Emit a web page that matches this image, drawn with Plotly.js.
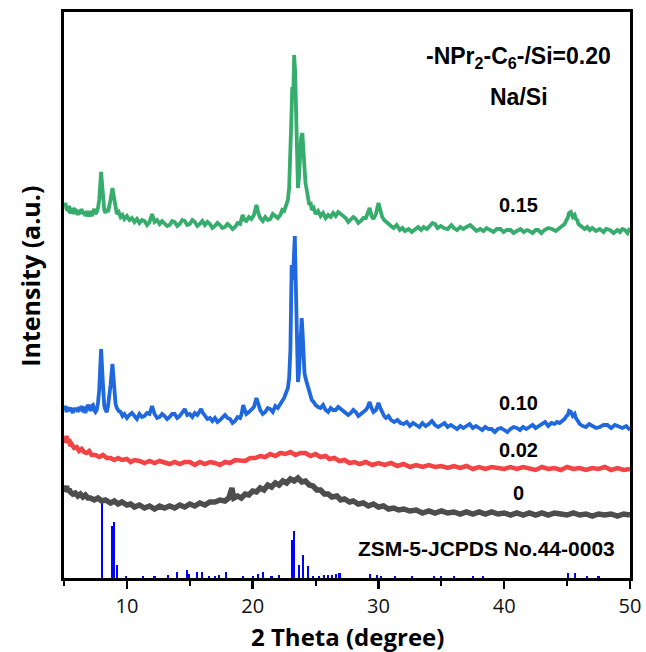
<!DOCTYPE html>
<html>
<head>
<meta charset="utf-8">
<script src="https://cdn.plot.ly/plotly-3.0.1.min.js"></script>
<style>html,body{margin:0;padding:0;background:#fff;}#chart{width:646px;height:652px;}</style>
</head>
<body>
<div id="chart"></div>
<script>
// 2 Theta (degree) and intensity (a.u.)
const thetaNa015 = [
5.0,5.1,5.2,5.3,5.4,5.5,5.6,5.7,5.8,5.9,
6.0,6.1,6.2,6.3,6.4,6.5,6.6,6.7,6.8,6.9,
7.0,7.1,7.2,7.3,7.4,7.5,7.6,7.7,7.8,7.95,
8.1,8.2,8.3,8.4,8.5,8.6,8.7,8.85,9.0,9.1,
9.2,9.35,9.5,9.65,9.8,10.0,10.2,10.4,10.6,10.8,
11.0,11.2,11.4,11.6,11.8,12.0,12.2,12.4,12.6,12.8,
13.0,13.2,13.4,13.6,13.8,14.0,14.2,14.4,14.6,14.8,
15.0,15.2,15.4,15.6,15.8,16.0,16.2,16.4,16.6,16.8,
17.0,17.2,17.4,17.6,17.8,18.0,18.2,18.4,18.6,18.8,
19.0,19.2,19.35,19.5,19.7,19.9,20.1,20.3,20.45,20.6,
20.8,21.0,21.2,21.4,21.6,21.8,22.0,22.2,22.35,22.5,
22.65,22.8,22.9,23.0,23.08,23.15,23.22,23.3,23.38,23.45,
23.52,23.6,23.68,23.75,23.85,23.95,24.02,24.1,24.2,24.3,
24.4,24.5,24.6,24.7,24.85,25.0,25.2,25.4,25.6,25.8,
26.0,26.2,26.4,26.6,26.8,27.0,27.2,27.4,27.6,27.8,
28.0,28.2,28.4,28.6,28.8,29.0,29.15,29.3,29.45,29.6,
29.8,30.0,30.15,30.3,30.45,30.6,30.8,31.0,31.2,31.45,
31.7,31.9,32.1,32.4,32.65,32.9,33.15,33.4,33.6,33.85,
34.1,34.3,34.5,34.7,34.95,35.2,35.5,35.8,36.0,36.25,
36.5,36.75,37.0,37.3,37.55,37.8,38.1,38.35,38.6,38.9,
39.15,39.4,39.7,39.95,40.2,40.5,40.75,41.0,41.3,41.55,
41.8,42.0,42.25,42.5,42.7,42.95,43.2,43.5,43.8,44.1,
44.4,44.6,44.8,44.95,45.05,45.15,45.3,45.45,45.6,45.7,
45.8,45.9,46.0,46.2,46.4,46.6,46.8,47.0,47.3,47.6,
47.9,48.1,48.4,48.7,49.0,49.2,49.4,49.6,49.8,50.0];
const intNa015 = [
371,375,369,368,372,366,366,370,364,368,
367,363,368,364,369,364,366,362,367,363,
363,367,362,365,369,364,366,370,378,406,
380,368,365,369,366,371,378,390,378,368,
364,366,361,363,359,362,358,360,356,359,
355,358,357,353,356,364,356,358,354,357,
355,352,353,357,356,352,354,358,357,353,
354,358,356,352,354,357,353,356,354,350,
352,355,353,350,351,354,352,349,351,355,
354,363,358,357,361,359,363,373,365,360,
357,361,358,359,364,362,360,363,368,367,
372,378,390,418,460,491,480,523,505,468,
420,390,400,418,440,445,430,415,395,388,
380,373,376,368,370,364,367,362,365,360,
363,361,365,362,366,364,362,360,356,358,
361,359,355,357,360,360,364,370,362,359,
364,375,368,361,358,356,354,352,350,353,
348,350,347,349,346,348,351,348,351,349,
352,355,354,350,352,350,349,353,350,348,
351,349,351,353,350,347,349,347,350,348,
346,349,349,346,348,348,345,347,349,346,
348,347,345,348,348,345,348,350,349,347,
350,352,354,358,360,365,366,361,363,359,
358,354,353,351,349,351,348,350,347,349,
346,349,348,345,348,346,349,348,345,350];

const thetaNa010 = [
5.0,5.1,5.2,5.3,5.4,5.5,5.6,5.7,5.8,5.9,
6.0,6.1,6.2,6.3,6.4,6.5,6.6,6.7,6.8,6.9,
7.0,7.1,7.2,7.3,7.4,7.5,7.6,7.7,7.8,7.95,
8.1,8.2,8.3,8.4,8.5,8.6,8.7,8.85,9.0,9.1,
9.2,9.35,9.5,9.65,9.8,10.0,10.2,10.4,10.6,10.8,
11.0,11.2,11.4,11.6,11.8,12.0,12.2,12.4,12.6,12.8,
13.0,13.2,13.4,13.6,13.8,14.0,14.2,14.4,14.6,14.8,
15.0,15.2,15.4,15.6,15.8,15.9,16.0,16.2,16.4,16.6,
16.8,17.0,17.2,17.4,17.6,17.8,18.0,18.2,18.4,18.6,
18.8,19.0,19.1,19.25,19.4,19.5,19.7,19.9,20.1,20.3,
20.45,20.6,20.8,21.0,21.2,21.4,21.6,21.8,22.0,22.2,
22.35,22.5,22.65,22.8,22.9,23.0,23.05,23.1,23.15,23.2,
23.28,23.35,23.42,23.5,23.6,23.68,23.75,23.82,23.9,23.97,
24.05,24.12,24.2,24.3,24.4,24.5,24.6,24.7,24.85,25.0,
25.2,25.4,25.6,25.8,26.0,26.2,26.4,26.6,26.8,27.0,
27.2,27.4,27.6,27.8,28.0,28.2,28.4,28.6,28.8,29.0,
29.15,29.3,29.45,29.6,29.8,30.0,30.15,30.3,30.45,30.6,
30.8,31.0,31.25,31.5,31.75,32.0,32.25,32.5,32.75,33.0,
33.25,33.5,33.75,34.0,34.25,34.5,34.75,35.0,35.25,35.5,
35.75,36.0,36.25,36.5,36.75,37.0,37.25,37.5,37.75,38.0,
38.25,38.5,38.75,39.0,39.25,39.5,39.75,40.0,40.25,40.5,
40.75,41.0,41.25,41.5,41.75,42.0,42.25,42.5,42.75,43.0,
43.25,43.5,43.75,44.0,44.2,44.4,44.6,44.8,44.95,45.05,
45.15,45.3,45.45,45.6,45.7,45.85,46.0,46.25,46.5,46.75,
47.0,47.3,47.6,47.9,48.2,48.5,48.8,49.1,49.4,49.7,
50.0];
const intNa010 = [
168,172,166,171,167,170,168,165,170,167,
170,166,171,167,172,168,169,165,170,173,
171,167,172,173,168,166,168,175,188,229,
193,172,168,166,172,180,193,214,188,174,
170,167,166,162,164,160,163,165,162,159,
164,161,162,165,164,172,164,160,161,164,
162,159,161,164,164,160,162,166,169,163,
164,161,165,163,167,169,166,162,159,160,
157,160,156,158,161,163,160,159,155,157,
161,160,163,173,167,164,166,168,171,180,
172,168,164,166,170,169,166,172,170,175,
177,180,184,190,200,228,270,313,305,298,
320,342,300,248,196,205,228,250,260,245,
218,205,200,196,190,186,182,178,176,173,
171,170,173,168,166,170,168,168,171,169,
167,166,163,165,168,166,162,164,166,168,
171,176,170,166,168,175,170,165,162,160,
162,158,156,158,155,154,156,152,155,153,
151,155,152,154,157,153,151,153,155,151,
153,151,149,152,150,152,154,150,152,150,
148,151,149,149,146,149,150,148,146,149,
151,150,148,151,149,151,153,150,152,154,
156,152,155,154,156,155,157,159,162,163,
167,166,162,164,160,157,154,152,151,154,
152,150,151,153,153,150,153,151,150,152,
148];

const thetaNa002 = [
5.0,5.1,5.2,5.3,5.4,5.5,5.6,5.7,5.8,6.0,
6.2,6.4,6.6,6.8,7.0,7.2,7.5,7.8,8.1,8.4,
8.7,9.0,9.3,9.6,10.0,10.3,10.6,11.0,11.4,11.8,
12.2,12.6,13.0,13.4,13.8,14.2,14.6,15.0,15.4,15.8,
16.2,16.6,17.0,17.4,17.8,18.2,18.6,19.0,19.4,19.8,
20.2,20.6,21.0,21.4,21.8,22.2,22.6,23.0,23.4,23.8,
24.2,24.6,25.0,25.4,25.8,26.1,26.5,26.9,27.3,27.7,
28.1,28.5,29.0,29.5,30.0,30.5,31.0,31.5,32.0,32.5,
33.0,33.5,34.0,34.5,35.0,35.5,36.0,36.5,37.0,37.5,
38.0,38.5,39.0,39.5,40.0,40.5,41.0,41.5,42.0,42.5,
43.0,43.5,44.0,44.5,45.0,45.5,46.0,46.5,47.0,47.5,
48.0,48.5,49.0,49.5,50.0];
const intNa002 = [
138,136,142,135,139,132,134,131,130,131,
127,129,126,125,127,123,123,121,123,120,
120,118,120,118,119,116,118,117,115,117,
115,117,116,114,116,114,116,116,113,116,
114,116,115,113,116,115,118,118,117,120,
120,122,121,124,122,125,124,126,123,125,
125,122,124,121,122,119,120,117,118,115,
116,114,116,113,115,113,115,112,114,111,
113,111,113,111,112,110,112,110,112,109,
111,109,111,110,109,111,109,111,110,108,
111,109,110,108,111,109,110,108,110,109,
111,108,110,108,109];

const thetaNa0 = [
5.0,5.1,5.2,5.3,5.4,5.5,5.7,5.9,6.1,6.3,
6.5,6.7,6.9,7.1,7.4,7.7,8.0,8.3,8.7,9.0,
9.3,9.6,10.0,10.3,10.6,11.0,11.4,11.8,12.2,12.6,
13.0,13.4,13.8,14.2,14.6,15.0,15.4,15.8,16.2,16.6,
17.0,17.4,17.8,18.1,18.25,18.35,18.5,18.8,19.1,19.4,
19.7,20.0,20.3,20.6,20.9,21.2,21.5,21.8,22.1,22.4,
22.7,23.0,23.3,23.6,23.9,24.2,24.5,24.8,25.1,25.4,
25.7,26.0,26.3,26.7,27.0,27.3,27.7,28.0,28.4,28.8,
29.2,29.6,30.0,30.4,30.8,31.2,31.6,32.0,32.5,33.0,
33.5,34.0,34.5,35.0,35.5,36.0,36.5,37.0,37.5,38.0,
38.5,39.0,39.5,40.0,40.5,41.0,41.5,42.0,42.5,43.0,
43.5,44.0,44.5,45.0,45.5,46.0,46.5,47.0,47.5,48.0,
48.5,49.0,49.5,50.0];
const intNa0 = [
90,87,92,86,89,86,84,85,82,84,
81,83,80,80,78,80,77,78,75,77,
74,76,73,74,71,73,70,72,69,72,
70,72,70,73,71,74,72,75,73,76,
76,78,77,80,86,90,80,82,80,84,
83,87,86,90,88,93,91,95,93,97,
95,99,97,100,96,97,93,92,88,88,
84,84,81,82,78,79,76,77,74,75,
72,74,71,72,69,70,68,69,67,68,
65,67,65,67,65,66,64,66,64,66,
64,66,64,65,63,65,63,65,63,65,
63,65,64,63,65,63,64,62,64,63,
64,62,64,63];

// ZSM-5 JCPDS No.44-0003 reference lines
const refTheta = [8.0,8.85,8.95,9.18,9.9,11.3,12.2,13.27,13.95,14.75,14.9,15.55,16.0,16.5,17.0,17.3,17.85,19.2,20.0,20.45,20.84,21.5,22.1,23.1,23.3,23.7,23.97,24.42,24.8,25.3,25.7,26.0,26.3,26.6,26.9,29.3,29.9,30.2,31.3,32.7,34.4,35.0,36.0,37.5,38.3,45.06,45.6,46.6,47.5];
const refInt = [80,52,56,13,2,2,2,3,6,8,4,6,6,2,2,3,6,2,2,4,6,2,3,38,47,13,23,12,2,2,3,3,3,4,5,4,3,2,2,2,2,2,2,2,2,5,5,2,2];

const xTicks = [10,20,30,40,50];
const xMinorTicks = [5,15,25,35,45];
const seriesLabels = ['0.15','0.10','0.02','0'];

const lineStyle = (c,w) => ({color:c, width:w, shape:'linear'});
const traces = [
  {type:'bar', x:refTheta, y:refInt, width:0.17, marker:{color:'#0000ff', line:{width:0}}, hoverinfo:'skip'},
  {type:'scatter', mode:'lines', x:thetaNa0, y:intNa0, line:lineStyle('#4d4d4d',5.5)},
  {type:'scatter', mode:'lines', x:thetaNa002, y:intNa002, line:lineStyle('#f24444',4.5)},
  {type:'scatter', mode:'lines', x:thetaNa010, y:intNa010, line:lineStyle('#1f68dd',3.8)},
  {type:'scatter', mode:'lines', x:thetaNa015, y:intNa015, line:lineStyle('#36ad6c',3.8)}
];

const lab = {family:'Liberation Sans, Arial, sans-serif', size:20, color:'#000'};
const annotations = [
  {x:41.17, y:521, xref:'x', yref:'y', text:'<b>-NPr<sub>2</sub>-C<sub>6</sub>-/Si=0.20</b>', showarrow:false, font:Object.assign({}, lab, {size:23})},
  {x:41.17, y:481, xref:'x', yref:'y', text:'<b>Na/Si</b>', showarrow:false, font:Object.assign({}, lab, {size:23})},
  {x:41.17, y:373, xref:'x', yref:'y', text:'<b>'+seriesLabels[0]+'</b>', showarrow:false, font:lab},
  {x:41.17, y:175, xref:'x', yref:'y', text:'<b>'+seriesLabels[1]+'</b>', showarrow:false, font:lab},
  {x:41.17, y:128, xref:'x', yref:'y', text:'<b>'+seriesLabels[2]+'</b>', showarrow:false, font:lab},
  {x:41.17, y:85, xref:'x', yref:'y', text:'<b>'+seriesLabels[3]+'</b>', showarrow:false, font:lab},
  {x:38.63, y:30, xref:'x', yref:'y', text:'<b>ZSM-5-JCPDS No.44-0003</b>', showarrow:false, font:Object.assign({}, lab, {size:21})},
  {x:0.5, y:-0.1025, xref:'paper', yref:'paper', xanchor:'center', yanchor:'middle', text:'<b>2 Theta (degree)</b>', showarrow:false, font:{family:'Open Sans, sans-serif', size:24, color:'#000'}},
  {x:-0.0601, y:0.534, xref:'paper', yref:'paper', xanchor:'center', yanchor:'middle', text:'<b>Intensity (a.u.)</b>', textangle:-90, showarrow:false, font:{family:'Open Sans, sans-serif', size:25, color:'#000'}}
];

const layout = {
  width:646, height:652,
  margin:{l:64, r:16, t:12, b:74, pad:0},
  paper_bgcolor:'#fff', plot_bgcolor:'#fff',
  showlegend:false,
  bargap:0,
  xaxis:{range:[5,50], tickvals:xTicks, ticktext:xTicks.map(String), ticks:'outside', ticklen:8, tickwidth:2.5, tickcolor:'#000',
         minor:{tickvals:xMinorTicks, ticks:'outside', ticklen:5, tickwidth:2, tickcolor:'#000'},
         showline:true, mirror:true, linewidth:3, linecolor:'#000', showgrid:false, zeroline:false,
         tickfont:{family:'Open Sans, sans-serif', size:20, color:'#111'}},
  yaxis:{range:[0,566], showticklabels:false, ticks:'', showline:true, mirror:true, linewidth:3, linecolor:'#000', showgrid:false, zeroline:false},
  annotations:annotations
};

Plotly.newPlot('chart', traces, layout, {displayModeBar:false, staticPlot:true});
</script>
</body>
</html>
